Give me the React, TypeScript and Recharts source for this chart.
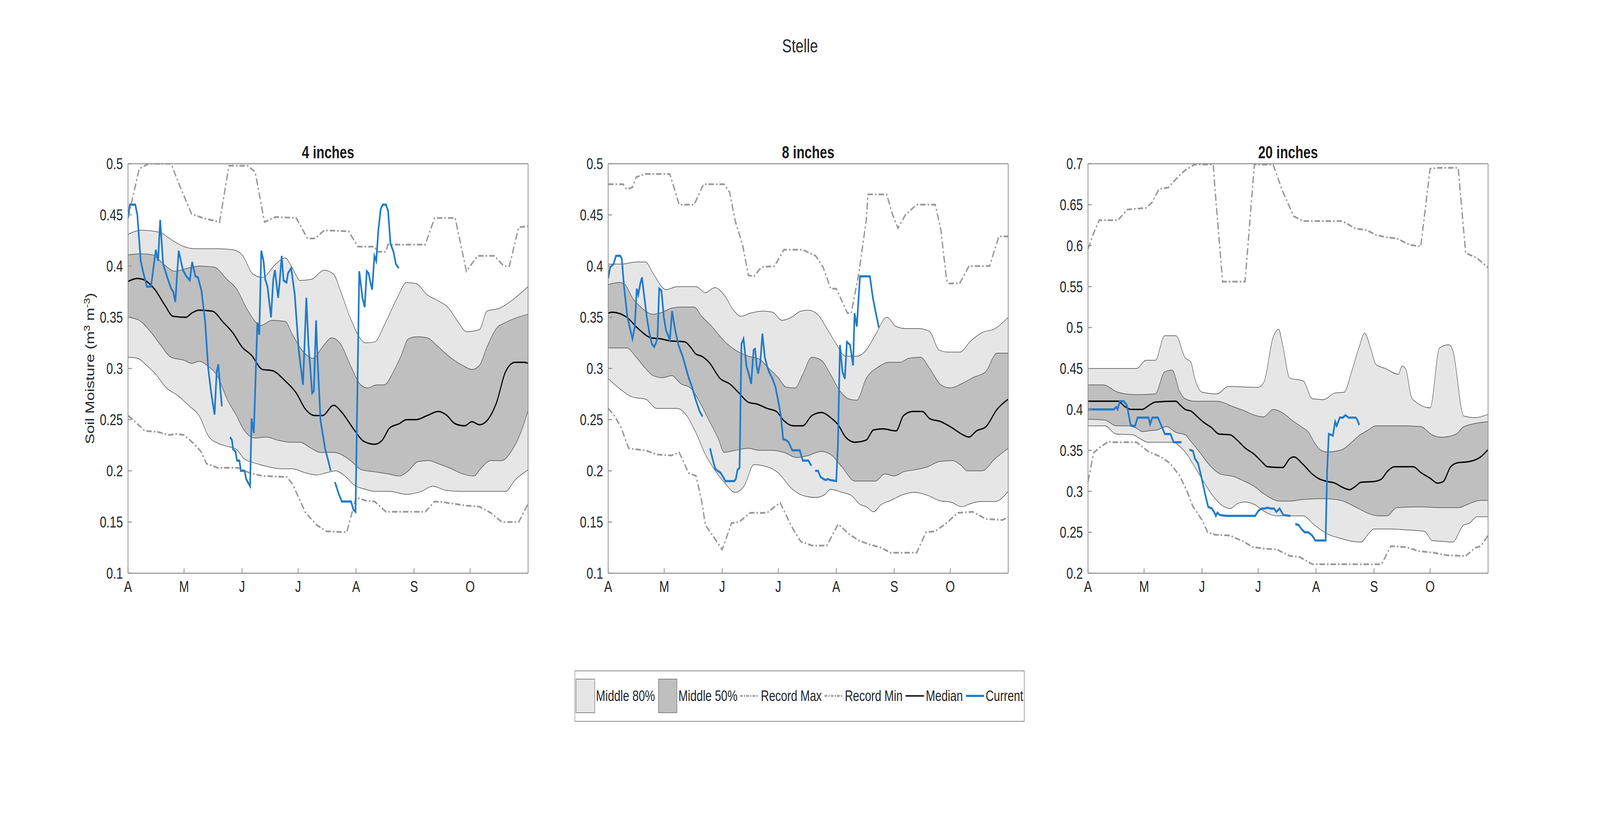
import React from "react";
import { ComposedChart, Area, Line, XAxis, YAxis } from "recharts";

type Pt = [number, number | null];

const FONT = '"Liberation Sans", Arial, Helvetica, sans-serif';

// days since April 1, axis runs to November 1
const monthDays = [0, 30, 61, 91, 122, 153, 183];
const monthLabels = ["A", "M", "J", "J", "A", "S", "O"];
const ticksShallow = [0.1, 0.15, 0.2, 0.25, 0.3, 0.35, 0.4, 0.45, 0.5];
const ticksDeep = [0.2, 0.25, 0.3, 0.35, 0.4, 0.45, 0.5, 0.55, 0.6, 0.65, 0.7];
const panelTitles = ["4 inches", "8 inches", "20 inches"];
const legendLabels = ["Middle 80%", "Middle 50%", "Record Max", "Record Min", "Median", "Current"];

// ---- 4 inches ----
const max4: Pt[] = [[0,0.447],[6,0.495],[11,0.5],[23,0.5],[28,0.477],[34,0.451],[40,0.447],[49,0.443],[54,0.498],[64,0.498],[68,0.492],[73,0.443],[79,0.448],[90,0.447],[96,0.427],[100,0.427],[105,0.435],[118,0.434],[123,0.419],[132,0.419],[133,0.414],[138,0.414],[139,0.421],[159,0.421],[164,0.447],[175,0.447],[181,0.395],[187,0.41],[196,0.41],[201,0.4],[204,0.4],[209,0.438],[214,0.439]];
const min4: Pt[] = [[0,0.254],[2,0.251],[9,0.239],[16,0.238],[22,0.235],[26,0.236],[30,0.235],[35,0.227],[39,0.219],[42,0.207],[48,0.203],[59,0.203],[65,0.198],[72,0.195],[85,0.194],[88,0.187],[95,0.159],[101,0.147],[106,0.141],[117,0.14],[122,0.174],[127,0.171],[132,0.17],[138,0.16],[159,0.16],[164,0.17],[170,0.169],[181,0.166],[188,0.165],[194,0.159],[200,0.15],[209,0.15],[214,0.168]];
const med4: Pt[] = [[0,0.385],[5,0.388],[8,0.387],[14,0.378],[20,0.361],[24,0.351],[31,0.35],[34,0.354],[38,0.357],[45,0.356],[51,0.345],[56,0.335],[61,0.321],[66,0.313],[72,0.299],[77,0.298],[84,0.288],[90,0.276],[95,0.26],[100,0.254],[104,0.254],[110,0.264],[114,0.258],[121,0.24],[126,0.229],[132,0.226],[136,0.23],[140,0.242],[145,0.246],[149,0.25],[154,0.25],[160,0.254],[166,0.258],[170,0.255],[175,0.246],[180,0.244],[184,0.248],[188,0.245],[192,0.249],[197,0.266],[202,0.297],[207,0.306],[212,0.306],[214,0.305]];
const p90_4: Pt[] = [[0,0.431],[7,0.435],[17,0.433],[23,0.426],[30,0.419],[36,0.417],[48,0.417],[56,0.416],[61,0.411],[67,0.392],[72,0.389],[79,0.402],[84,0.408],[88,0.398],[92,0.386],[98,0.387],[105,0.396],[110,0.392],[114,0.374],[119,0.349],[124,0.33],[127,0.325],[132,0.326],[137,0.342],[144,0.369],[149,0.384],[154,0.383],[160,0.372],[166,0.366],[171,0.36],[176,0.347],[181,0.336],[188,0.338],[192,0.356],[199,0.359],[205,0.366],[214,0.38]];
const p75_4: Pt[] = [[0,0.411],[7,0.412],[13,0.411],[19,0.402],[25,0.395],[32,0.398],[38,0.4],[46,0.399],[53,0.387],[58,0.378],[64,0.357],[71,0.342],[77,0.347],[84,0.346],[88,0.333],[93,0.318],[99,0.31],[104,0.321],[109,0.33],[114,0.323],[119,0.303],[124,0.285],[128,0.281],[133,0.284],[137,0.284],[142,0.297],[146,0.312],[150,0.329],[155,0.331],[160,0.33],[166,0.321],[173,0.31],[179,0.303],[184,0.299],[188,0.303],[192,0.321],[197,0.339],[202,0.345],[207,0.349],[214,0.353]];
const p25_4: Pt[] = [[0,0.35],[6,0.347],[12,0.336],[17,0.324],[23,0.311],[30,0.308],[34,0.305],[38,0.307],[43,0.302],[48,0.292],[53,0.27],[58,0.254],[62,0.24],[68,0.232],[74,0.233],[80,0.23],[87,0.228],[92,0.228],[98,0.222],[103,0.218],[110,0.218],[114,0.216],[119,0.21],[125,0.201],[132,0.199],[139,0.197],[145,0.195],[150,0.2],[155,0.209],[161,0.21],[166,0.207],[173,0.202],[179,0.197],[185,0.195],[189,0.203],[194,0.21],[200,0.21],[205,0.219],[210,0.237],[214,0.259]];
const p10_4: Pt[] = [[0,0.311],[5,0.31],[10,0.303],[15,0.294],[20,0.282],[27,0.273],[33,0.263],[38,0.254],[43,0.234],[48,0.227],[53,0.224],[58,0.221],[62,0.212],[69,0.207],[75,0.204],[82,0.202],[88,0.202],[95,0.198],[101,0.196],[106,0.198],[111,0.2],[116,0.195],[121,0.186],[127,0.182],[132,0.18],[140,0.18],[149,0.177],[157,0.18],[163,0.185],[170,0.181],[178,0.18],[186,0.18],[196,0.18],[202,0.18],[207,0.191],[214,0.201]];
const cur4: Pt[] = [[0,0.447],[1,0.46],[3.9,0.46],[5,0.45],[6.8,0.405],[8,0.395],[10.1,0.38],[12.3,0.38],[14.9,0.416],[16.1,0.405],[17.2,0.445],[18.8,0.402],[21,0.389],[23.1,0.378],[24.2,0.375],[25.3,0.365],[27.1,0.415],[29.4,0.396],[31.2,0.39],[33.1,0.386],[34.3,0.404],[36.1,0.39],[37.4,0.389],[39.3,0.376],[41.3,0.345],[42.9,0.3],[44.5,0.276],[46.3,0.255],[47.4,0.296],[48.3,0.304],[50.2,0.263],[52,null],
  [54.6,0.233],[55.6,0.23],[56.2,0.221],[57.5,0.219],[58.3,0.21],[59.6,0.21],[60.4,0.2],[62.4,0.2],[63.2,0.192],[65.3,0.185],[66.1,0.251],[67.3,0.237],[69.2,0.345],[70.2,0.333],[71.3,0.415],[72.5,0.405],[73.4,0.387],[74.6,0.38],[76.5,0.35],[77.7,0.387],[78.6,0.396],[80.3,0.369],[81.1,0.384],[82.2,0.41],[83.2,0.386],[84.8,0.384],[85.6,0.393],[87.3,0.398],[89.2,0.372],[91.3,0.318],[93.6,0.284],[95.4,0.369],[96.5,0.324],[98.5,0.276],[99.4,0.278],[100.6,0.347],[101.4,0.309],[103,0.249],[105.5,0.221],[107.1,0.21],[108.4,0.2],[109.5,null],
  [110.7,0.189],[112.8,0.177],[114.4,0.17],[119.3,0.17],[120.6,0.162],[121.7,0.16],[123.7,0.395],[125.4,0.369],[126.6,0.36],[127.7,0.395],[128.7,0.393],[129.8,0.383],[130.6,0.377],[131.8,0.41],[132.8,0.405],[133.9,0.435],[135.2,0.456],[136.3,0.46],[138,0.46],[139.1,0.454],[140.4,0.422],[142,0.414],[143.3,0.402],[144.8,0.398]];

// ---- 8 inches ----
const max8: Pt[] = [[0,0.48],[8,0.48],[10,0.475],[13,0.477],[15,0.487],[20,0.49],[33,0.49],[38,0.46],[46,0.46],[51,0.48],[62,0.48],[65,0.472],[68,0.444],[72,0.42],[75,0.391],[78,0.39],[82,0.399],[89,0.4],[94,0.416],[104,0.416],[111,0.41],[115,0.399],[119,0.378],[122,0.378],[128,0.354],[130,0.354],[134,0.392],[138,0.444],[139,0.47],[149,0.47],[152,0.451],[155,0.437],[159,0.45],[165,0.46],[175,0.46],[178,0.435],[181,0.387],[182,0.383],[188,0.383],[193,0.4],[204,0.4],[209,0.429],[214,0.429]];
const min8: Pt[] = [[0,0.261],[3,0.255],[7,0.242],[11,0.222],[15,0.221],[20,0.22],[26,0.216],[34,0.215],[38,0.218],[40,0.21],[43,0.198],[47,0.195],[50,0.171],[52,0.147],[57,0.134],[61,0.123],[66,0.149],[70,0.15],[76,0.159],[85,0.159],[92,0.169],[98,0.146],[103,0.131],[109,0.127],[117,0.127],[123,0.148],[129,0.138],[134,0.132],[140,0.128],[146,0.125],[151,0.12],[165,0.12],[170,0.14],[175,0.141],[181,0.149],[187,0.159],[195,0.16],[202,0.153],[211,0.152],[214,0.155]];
const med8: Pt[] = [[0,0.354],[2,0.355],[10,0.35],[16,0.339],[23,0.33],[28,0.329],[33,0.327],[41,0.326],[44,0.321],[47,0.314],[50,0.312],[54,0.306],[60,0.29],[65,0.285],[70,0.276],[75,0.267],[80,0.265],[85,0.261],[90,0.258],[94,0.249],[99,0.244],[104,0.244],[109,0.254],[114,0.257],[119,0.252],[123,0.245],[127,0.233],[132,0.228],[138,0.23],[142,0.24],[147,0.241],[154,0.239],[158,0.254],[163,0.258],[168,0.258],[172,0.251],[178,0.248],[184,0.242],[189,0.236],[193,0.233],[197,0.239],[202,0.243],[208,0.26],[214,0.27]];
const p90_8: Pt[] = [[0,0.402],[7,0.402],[15,0.404],[20,0.404],[24,0.393],[31,0.377],[37,0.38],[47,0.38],[52,0.374],[57,0.379],[62,0.372],[67,0.357],[71,0.351],[76,0.354],[83,0.356],[88,0.355],[93,0.347],[98,0.35],[103,0.356],[107,0.357],[112,0.353],[117,0.339],[122,0.324],[127,0.312],[133,0.312],[138,0.318],[143,0.333],[149,0.35],[154,0.341],[159,0.339],[166,0.339],[172,0.336],[177,0.318],[182,0.316],[188,0.316],[194,0.327],[200,0.335],[207,0.339],[214,0.35]];
const p75_8: Pt[] = [[0,0.382],[6,0.384],[9,0.382],[13,0.369],[18,0.359],[24,0.353],[29,0.355],[34,0.359],[39,0.36],[46,0.36],[50,0.351],[55,0.342],[62,0.327],[68,0.318],[75,0.312],[81,0.309],[86,0.3],[91,0.291],[95,0.282],[100,0.281],[104,0.294],[109,0.311],[114,0.308],[119,0.294],[124,0.278],[129,0.27],[133,0.269],[138,0.29],[145,0.302],[150,0.306],[156,0.306],[161,0.31],[167,0.311],[172,0.3],[178,0.284],[183,0.281],[189,0.285],[195,0.291],[202,0.297],[208,0.315],[214,0.315]];
const p25_8: Pt[] = [[0,0.32],[10,0.32],[15,0.311],[20,0.3],[24,0.293],[29,0.291],[34,0.293],[39,0.285],[44,0.281],[49,0.267],[54,0.249],[59,0.231],[62,0.218],[68,0.22],[75,0.222],[81,0.22],[88,0.22],[94,0.218],[101,0.213],[107,0.215],[114,0.219],[119,0.216],[125,0.204],[132,0.19],[143,0.19],[148,0.197],[153,0.195],[158,0.199],[164,0.201],[171,0.204],[177,0.209],[184,0.21],[189,0.205],[192,0.2],[200,0.2],[207,0.212],[214,0.222]];
const p10_8: Pt[] = [[0,0.29],[7,0.279],[13,0.272],[20,0.27],[26,0.261],[33,0.261],[37,0.261],[42,0.254],[47,0.237],[52,0.216],[57,0.201],[62,0.189],[68,0.179],[73,0.186],[78,0.206],[85,0.204],[91,0.198],[98,0.183],[104,0.176],[111,0.174],[116,0.177],[119,0.182],[125,0.179],[130,0.176],[135,0.167],[138,0.165],[142,0.16],[146,0.167],[151,0.171],[158,0.177],[164,0.179],[171,0.176],[177,0.171],[184,0.169],[189,0.165],[194,0.168],[199,0.17],[207,0.17],[214,0.18]];
const cur8: Pt[] = [[0,0.388],[1.1,0.399],[2.9,0.402],[4.2,0.41],[6.5,0.41],[7.3,0.407],[8.5,0.38],[10.3,0.35],[12.2,0.335],[13,0.329],[14.2,0.34],[15.3,0.378],[16.1,0.372],[17.2,0.383],[18.1,0.389],[19.2,0.372],[20.7,0.35],[22,0.335],[23.4,0.324],[24.6,0.321],[25.6,0.325],[26.4,0.33],[27.3,0.378],[28.5,0.376],[29.8,0.35],[31,0.337],[33,0.328],[34.2,0.356],[35.8,0.338],[37.6,0.323],[40,0.311],[42.9,0.292],[45,0.281],[46.9,0.269],[49,0.258],[50.5,0.253],[52,null],
  [54.5,0.222],[55.8,0.212],[57.3,0.202],[58.6,0.2],[60.2,0.198],[61.5,0.194],[62.7,0.19],[67.5,0.19],[68.3,0.192],[69.2,0.201],[70.3,0.203],[71.3,0.324],[72.4,0.329],[74,0.302],[75.3,0.294],[76.5,0.285],[77.8,0.318],[78.6,0.319],[79.4,0.303],[80.2,0.295],[81.4,0.306],[82.5,0.334],[83.8,0.311],[84.9,0.303],[86.2,0.296],[87.9,0.29],[89.5,0.282],[91.1,0.267],[92.3,0.255],[93.6,0.231],[95.2,0.23],[96.5,0.228],[98.5,0.22],[102.5,0.22],[104.1,0.21],[107.1,0.21],[108.7,0.205],[109.7,null],
  [110.7,0.2],[112.3,0.2],[113.6,0.194],[115.2,0.192],[116.4,0.191],[117.5,0.192],[118.8,0.191],[122,0.19],[122.9,0.225],[124,0.323],[125.3,0.297],[126.6,0.29],[127.7,0.326],[129.4,0.323],[131,0.303],[131.8,0.354],[133,0.341],[134.7,0.39],[140,0.39],[141.6,0.369],[143.2,0.354],[144.8,0.34]];

// ---- 20 inches ----
const max20: Pt[] = [[0,0.596],[3,0.615],[6,0.631],[16,0.631],[21,0.644],[31,0.646],[34,0.652],[38,0.669],[43,0.671],[49,0.686],[52,0.692],[57,0.699],[67,0.699],[68,0.667],[72,0.556],[84,0.556],[89,0.699],[99,0.699],[104,0.667],[110,0.636],[115,0.63],[136,0.63],[143,0.621],[149,0.619],[154,0.613],[160,0.61],[165,0.609],[172,0.601],[178,0.599],[183,0.694],[187,0.695],[198,0.695],[202,0.591],[208,0.585],[214,0.573]];
const min20: Pt[] = [[0,0.312],[3,0.347],[6,0.353],[11,0.361],[13,0.36],[26,0.36],[32,0.349],[39,0.342],[44,0.334],[49,0.319],[53,0.3],[56,0.282],[61,0.265],[64,0.25],[68,0.247],[76,0.246],[83,0.239],[88,0.232],[94,0.23],[101,0.229],[108,0.221],[113,0.22],[120,0.211],[126,0.211],[157,0.211],[162,0.233],[170,0.232],[177,0.227],[185,0.225],[192,0.222],[202,0.221],[207,0.231],[210,0.233],[214,0.246]];
const med20: Pt[] = [[0,0.41],[16,0.41],[20,0.403],[23,0.4],[29,0.4],[32,0.404],[36,0.409],[47,0.41],[49,0.406],[52,0.4],[55,0.398],[59,0.39],[62,0.384],[66,0.378],[70,0.37],[76,0.369],[80,0.362],[84,0.353],[89,0.345],[93,0.336],[96,0.33],[104,0.329],[108,0.34],[110,0.342],[115,0.333],[120,0.321],[123,0.316],[128,0.312],[132,0.31],[136,0.305],[140,0.302],[143,0.306],[146,0.311],[153,0.312],[157,0.315],[160,0.324],[164,0.33],[174,0.33],[178,0.323],[183,0.316],[187,0.31],[190,0.312],[194,0.33],[198,0.335],[203,0.336],[210,0.342],[214,0.351]];
const p90_20: Pt[] = [[0,0.45],[26,0.45],[31,0.46],[36,0.46],[41,0.49],[47,0.49],[52,0.463],[55,0.458],[57,0.439],[61,0.421],[69,0.419],[75,0.428],[91,0.427],[94,0.433],[99,0.488],[102,0.498],[104,0.48],[108,0.438],[115,0.435],[120,0.413],[126,0.412],[132,0.42],[137,0.421],[141,0.446],[145,0.476],[148,0.493],[151,0.476],[154,0.455],[159,0.45],[166,0.443],[168,0.453],[170,0.449],[173,0.415],[176,0.408],[183,0.402],[188,0.475],[193,0.479],[195,0.473],[201,0.392],[207,0.39],[214,0.394]];
const p75_20: Pt[] = [[0,0.43],[8,0.43],[16,0.421],[20,0.419],[26,0.418],[36,0.419],[41,0.446],[45,0.448],[49,0.422],[52,0.413],[57,0.41],[69,0.41],[78,0.403],[84,0.398],[89,0.393],[94,0.391],[99,0.4],[104,0.396],[109,0.387],[114,0.379],[118,0.372],[121,0.36],[124,0.351],[128,0.348],[136,0.351],[141,0.36],[145,0.368],[150,0.375],[154,0.38],[168,0.38],[178,0.379],[184,0.369],[189,0.366],[197,0.37],[201,0.379],[214,0.385]];
const p25_20: Pt[] = [[0,0.388],[9,0.387],[15,0.38],[21,0.38],[26,0.377],[29,0.373],[33,0.374],[37,0.375],[42,0.379],[47,0.372],[52,0.369],[55,0.361],[60,0.347],[65,0.332],[71,0.321],[78,0.318],[83,0.313],[89,0.306],[94,0.297],[103,0.288],[108,0.288],[115,0.29],[126,0.291],[135,0.289],[143,0.281],[150,0.273],[155,0.27],[160,0.27],[165,0.28],[177,0.281],[190,0.28],[198,0.28],[203,0.284],[210,0.289],[214,0.289]];
const p10_20: Pt[] = [[0,0.38],[9,0.38],[15,0.37],[24,0.369],[28,0.364],[32,0.36],[46,0.36],[49,0.355],[53,0.345],[57,0.33],[61,0.315],[66,0.297],[71,0.284],[76,0.279],[80,0.285],[84,0.287],[89,0.284],[94,0.276],[101,0.27],[115,0.27],[121,0.259],[128,0.248],[136,0.242],[141,0.239],[146,0.238],[150,0.248],[153,0.254],[161,0.254],[170,0.253],[180,0.251],[184,0.24],[189,0.239],[195,0.238],[201,0.259],[204,0.261],[208,0.269],[214,0.269]];
const cur20: Pt[] = [[0,0.4],[13.9,0.4],[15.1,0.403],[15.8,0.4],[17.1,0.41],[19.1,0.41],[20.8,0.405],[22.8,0.381],[24,0.38],[25.2,0.38],[26.5,0.39],[32.4,0.39],[33.2,0.382],[34.4,0.39],[37.4,0.39],[39.1,0.381],[41.1,0.37],[44.1,0.37],[45.8,0.36],[50,0.36],[52,null],
  [54.2,0.351],[56.2,0.349],[57.2,0.34],[58.9,0.334],[60.9,0.315],[62.6,0.297],[64.3,0.281],[66.3,0.279],[67.6,0.274],[68.4,0.27],[69.2,0.274],[70.6,0.271],[74.3,0.27],[89.4,0.27],[91.1,0.276],[92.8,0.279],[94.4,0.279],[96.1,0.28],[97.8,0.279],[99.5,0.279],[100.8,0.275],[102.5,0.279],[104.5,0.271],[108.2,0.27],[109.5,null],
  [110.9,0.26],[112.6,0.259],[114.2,0.254],[115.9,0.25],[117.9,0.25],[119.9,0.246],[121.6,0.24],[127.1,0.24],[127.9,0.325],[128.8,0.37],[131,0.368],[132.2,0.385],[133,0.38],[134.7,0.39],[136.4,0.39],[137.7,0.393],[139.4,0.39],[143.1,0.39],[143.9,0.388],[145.1,0.381]];

const rows = (pts: Pt[]) => pts.map(([d, v]) => ({ d, v }));

const LIGHT = "#e6e6e6";
const DARK = "#bfbfbf";
const EDGE = "#4d4d4d";
const REC = "#999999";
const REC_DASH = "18 7 5 7";
const BLUE = "#1f7acc";
const AXIS = "#8c8c8c";

const FIG_W = 5375;
const FIG_H = 2096;
const PLOT_TOP = 419;
const PLOT_W = 1344;
const PLOT_H = 1048;

interface PanelProps {
  title: string;
  plotLeft: number;
  yTicks: number[];
  max: Pt[];
  min: Pt[];
  med: Pt[];
  p90: Pt[];
  p75: Pt[];
  p25: Pt[];
  p10: Pt[];
  cur: Pt[];
}

const fmtY = (v: number) => String(Number(v.toFixed(2)));
const fmtX = (v: number) => monthLabels[monthDays.indexOf(v)] ?? "";

function SoilPanel(p: PanelProps) {
  const domain: [number, number] = [p.yTicks[0], p.yTicks[p.yTicks.length - 1]];
  const tickStyle = { fontSize: 40, fill: "#262626", fontFamily: FONT };
  const band = (data: Pt[], fill: string) => (
    <Area
      data={rows(data)}
      dataKey="v"
      type="monotone"
      fill={fill}
      fillOpacity={1}
      stroke={EDGE}
      strokeWidth={1.5}
      dot={false}
      activeDot={false}
      isAnimationActive={false}
    />
  );
  return (
    <>
      <div
        style={{
          position: "absolute",
          left: p.plotLeft,
          top: 368,
          width: PLOT_W,
          textAlign: "center",
          fontFamily: FONT,
          fontWeight: "bold",
          fontSize: 44,
          lineHeight: "44px",
          color: "#1a1a1a",
        }}
      >
        {p.title}
      </div>
      <div style={{ position: "absolute", left: p.plotLeft - 150, top: 300 }}>
        <ComposedChart
          width={150 + PLOT_W + 30}
          height={PLOT_TOP - 300 + PLOT_H + 93}
          margin={{ top: PLOT_TOP - 300 - 20, right: 0, bottom: 0, left: 0 }}
        >
          {band(p.p90, LIGHT)}
          {band(p.p75, DARK)}
          {band(p.p25, LIGHT)}
          {band(p.p10, "#ffffff")}
          <Line data={rows(p.max)} dataKey="v" type="linear" stroke={REC} strokeWidth={4.5} strokeDasharray={REC_DASH} dot={false} activeDot={false} isAnimationActive={false} />
          <Line data={rows(p.min)} dataKey="v" type="linear" stroke={REC} strokeWidth={4.5} strokeDasharray={REC_DASH} dot={false} activeDot={false} isAnimationActive={false} />
          <Line data={rows(p.med)} dataKey="v" type="monotone" stroke="#000000" strokeWidth={3.5} dot={false} activeDot={false} isAnimationActive={false} />
          <Line data={rows(p.cur)} dataKey="v" type="linear" stroke={BLUE} strokeWidth={5.5} dot={false} activeDot={false} connectNulls={false} isAnimationActive={false} />
          <XAxis
            dataKey="d"
            type="number"
            domain={[0, 214]}
            allowDataOverflow
            ticks={monthDays}
            tickFormatter={fmtX}
            interval={0}
            height={93}
            tickSize={-13}
            tickMargin={33}
            tick={tickStyle}
            stroke={AXIS}
            strokeWidth={2.5}
          />
          <XAxis
            xAxisId="top"
            orientation="top"
            dataKey="d"
            type="number"
            domain={[0, 214]}
            allowDataOverflow
            ticks={monthDays}
            interval={0}
            height={20}
            tickSize={-13}
            tick={false}
            stroke={AXIS}
            strokeWidth={2.5}
          />
          <YAxis
            type="number"
            domain={domain}
            allowDataOverflow
            ticks={p.yTicks}
            tickFormatter={fmtY}
            interval={0}
            width={150}
            tickSize={-13}
            tickMargin={30}
            tick={tickStyle}
            stroke={AXIS}
            strokeWidth={2.5}
          />
          <YAxis
            yAxisId="right"
            orientation="right"
            type="number"
            domain={domain}
            allowDataOverflow
            ticks={p.yTicks}
            interval={0}
            width={30}
            tickSize={-13}
            tick={false}
            stroke={AXIS}
            strokeWidth={2.5}
          />
        </ComposedChart>
      </div>
    </>
  );
}

function LegendBox() {
  const cy = 65;
  const txt = { fontSize: 38, fill: "#262626", fontFamily: FONT };
  return (
    <svg
      width={1512}
      height={131}
      style={{ position: "absolute", left: 1930, top: 1716 }}
    >
      <rect x={1} y={1} width={1510} height={129} fill="#ffffff" stroke={AXIS} strokeWidth={2} />
      <rect x={5} y={22} width={63} height={86} fill={LIGHT} stroke="#666666" strokeWidth={1.5} />
      <text x={72} y={cy} dominantBaseline="central" {...txt}>{legendLabels[0]}</text>
      <rect x={282} y={22} width={62} height={86} fill={DARK} stroke="#666666" strokeWidth={1.5} />
      <text x={349} y={cy} dominantBaseline="central" {...txt}>{legendLabels[1]}</text>
      <line x1={556} x2={619} y1={cy} y2={cy} stroke={REC} strokeWidth={4.5} strokeDasharray="9 4 4 4" />
      <text x={626} y={cy} dominantBaseline="central" {...txt}>{legendLabels[2]}</text>
      <line x1={840} x2={902} y1={cy} y2={cy} stroke={REC} strokeWidth={4.5} strokeDasharray="9 4 4 4" />
      <text x={908} y={cy} dominantBaseline="central" {...txt}>{legendLabels[3]}</text>
      <line x1={1112} x2={1174} y1={cy} y2={cy} stroke="#000000" strokeWidth={3.5} />
      <text x={1180} y={cy} dominantBaseline="central" {...txt}>{legendLabels[4]}</text>
      <line x1={1315} x2={1376} y1={cy} y2={cy} stroke={BLUE} strokeWidth={5.5} />
      <text x={1381} y={cy} dominantBaseline="central" {...txt}>{legendLabels[5]}</text>
    </svg>
  );
}

export default function App() {
  // the browser viewport may be narrower than the figure; squeeze horizontally so all of it shows
  const vw = typeof window !== "undefined" ? window.innerWidth : FIG_W;
  const sx = Math.min(1, vw / FIG_W);
  return (
    <div
      style={{
        position: "absolute",
        left: 0,
        top: 0,
        width: FIG_W,
        height: FIG_H,
        background: "#ffffff",
        overflow: "hidden",
        fontFamily: FONT,
        transform: `scaleX(${sx})`,
        transformOrigin: "0 0",
      }}
    >
      <div
        style={{
          position: "absolute",
          left: 0,
          top: 94,
          width: FIG_W,
          textAlign: "center",
          fontSize: 48,
          lineHeight: "48px",
          color: "#262626",
        }}
      >
        Stelle
      </div>
      <div
        style={{
          position: "absolute",
          left: 298,
          top: 943,
          transform: "translate(-50%, -50%) rotate(-90deg)",
          whiteSpace: "nowrap",
          fontSize: 40,
          lineHeight: "40px",
          color: "#262626",
        }}
      >
        Soil Moisture (m<span style={{ fontSize: 28, verticalAlign: "super" }}>3</span> m
        <span style={{ fontSize: 28, verticalAlign: "super" }}>-3</span>)
      </div>
      <SoilPanel title={panelTitles[0]} plotLeft={430} yTicks={ticksShallow}
        max={max4} min={min4} med={med4} p90={p90_4} p75={p75_4} p25={p25_4} p10={p10_4} cur={cur4} />
      <SoilPanel title={panelTitles[1]} plotLeft={2043} yTicks={ticksShallow}
        max={max8} min={min8} med={med8} p90={p90_8} p75={p75_8} p25={p25_8} p10={p10_8} cur={cur8} />
      <SoilPanel title={panelTitles[2]} plotLeft={3655} yTicks={ticksDeep}
        max={max20} min={min20} med={med20} p90={p90_20} p75={p75_20} p25={p25_20} p10={p10_20} cur={cur20} />
      <LegendBox />
    </div>
  );
}
